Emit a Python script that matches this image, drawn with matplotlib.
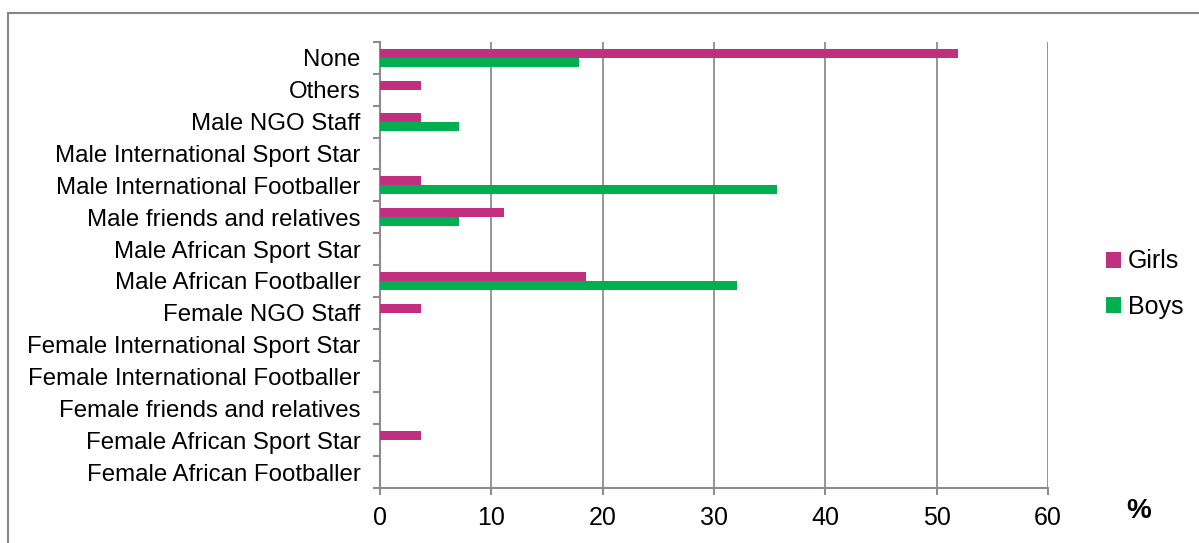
import matplotlib.pyplot as plt
import numpy as np
from matplotlib.patches import Rectangle

plt.rcParams['font.family'] = ['Liberation Sans', 'DejaVu Sans']

categories = [
    "Female African Footballer",
    "Female African Sport Star",
    "Female friends and relatives",
    "Female International Footballer",
    "Female International Sport Star",
    "Female NGO Staff",
    "Male African Footballer",
    "Male African Sport Star",
    "Male friends and relatives",
    "Male International Footballer",
    "Male International Sport Star",
    "Male NGO Staff",
    "Others",
    "None",
]
girls = [0, 3.7, 0, 0, 0, 3.7, 18.5, 0, 11.1, 3.7, 0, 3.7, 3.7, 51.9]
boys = [0, 0, 0, 0, 0, 0, 32.1, 0, 7.1, 35.7, 0, 7.1, 0, 17.9]
xticks = [0, 10, 20, 30, 40, 50, 60]

girls_color = "#C0307F"
boys_color = "#00B050"
grid_color = "#8C8C8C"

W, H = 1199, 543
fig = plt.figure(figsize=(W / 100, H / 100), dpi=100)

# outer frame of the chart area
fig.add_artist(Rectangle((8 / W, -0.1), 1.2, 1 - 13 / H + 0.1,
                         transform=fig.transFigure, fill=False,
                         edgecolor="#878787", linewidth=1.5))

ax = fig.add_axes([380 / W, 1 - 488 / H, (1048 - 380) / W, (488 - 42) / H])

y = np.arange(len(categories))
h = 0.28
ax.barh(y + h / 2, girls, height=h, color=girls_color, label="Girls", zorder=3)
ax.barh(y - h / 2, boys, height=h, color=boys_color, label="Boys", zorder=3)

ax.set_xlim(0, 60)
ax.set_ylim(-0.5, len(categories) - 0.5)
ax.set_xticks(xticks)
ax.set_xticklabels([str(v) for v in xticks], fontsize=18)
ax.set_yticks(np.arange(len(categories) + 1) - 0.5)
ax.set_yticklabels([])
ax.set_yticks(y, minor=True)
ax.set_yticklabels(categories, minor=True, fontsize=17.3)
ax.tick_params(axis='y', which='minor', length=0, pad=14)
ax.tick_params(axis='y', which='major', length=5, color=grid_color, width=1.5)
ax.tick_params(axis='x', length=5, color=grid_color, width=1.5, pad=8)

ax.grid(axis='x', color=grid_color, linewidth=1.3, zorder=0)
for s in ['top', 'right']:
    ax.spines[s].set_visible(False)
for s in ['left', 'bottom']:
    ax.spines[s].set_color(grid_color)
    ax.spines[s].set_linewidth(1.5)

fig.text(1139 / W, 1 - 511 / H, "%", fontsize=20, fontweight='bold',
         ha='center', va='center')

ax.legend(loc='center left', bbox_to_anchor=(1083 / W, 1 - 284 / H),
          bbox_transform=fig.transFigure, frameon=False, fontsize=18,
          handlelength=0.6, handleheight=0.6, handletextpad=0.3,
          labelspacing=0.85)

fig.savefig("out.png", dpi=100, facecolor="white")
